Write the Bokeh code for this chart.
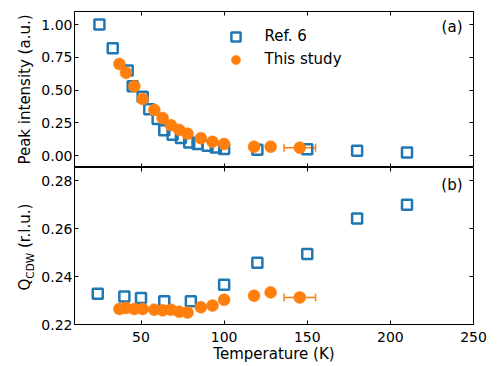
import math
from bokeh.plotting import figure
from bokeh.layouts import column, row
from bokeh.models import (Range1d, LinearAxis, SingleIntervalTicker, NumeralTickFormatter,
                          CustomJSTickFormatter, Label, Legend, LegendItem, Whisker, TeeHead,
                          ColumnDataSource)
from bokeh.core.properties import value
from bokeh.embed import file_html
from bokeh.resources import INLINE

# ---------------- data ----------------
# (a) peak intensity
ref_T_a = [25, 33, 42, 45, 51, 55, 60, 64, 69, 74, 79, 84, 90, 95, 100, 120, 150, 180, 210]
ref_I = [1.00, 0.82, 0.65, 0.53, 0.45, 0.355, 0.28, 0.195, 0.16, 0.135, 0.10, 0.089,
         0.076, 0.063, 0.051, 0.045, 0.05, 0.038, 0.025]
study_T = [37, 41, 46, 51, 58, 63, 68, 73, 78, 86, 93, 100, 118, 128, 145.5]
study_I = [0.70, 0.632, 0.53, 0.433, 0.349, 0.287, 0.233, 0.197, 0.168, 0.134, 0.106,
           0.089, 0.069, 0.069, 0.061]
study_Terr = [0, 0, 0, 0, 0, 0, 0, 0, 0, 0, 0, 0, 0, 0, 9.5]
# (b) Q_CDW
ref_T_b = [24, 40, 50, 64, 80, 100, 120, 150, 180, 210]
ref_Q = [0.2328, 0.2317, 0.2311, 0.2297, 0.2297, 0.2366, 0.2458, 0.2494, 0.2642, 0.2700]
study_Q = [0.2265, 0.2269, 0.2265, 0.2265, 0.2262, 0.2259, 0.2262, 0.2253, 0.2250,
           0.2272, 0.2279, 0.2303, 0.2320, 0.2334, 0.2313]

ylabel_a = "Peak intensity (a.u.)"
ylabel_b = ["Q", "CDW", "(r.l.u.)"]
xlabel = "Temperature (K)"

BLUE = "#1f77b4"
ORANGE = "#ff7f0e"
FONT = "DejaVu Sans"
TICK_FS = "14px"
LABEL_FS = "15px"

X0, X1 = 10, 250
YA0, YA1 = -0.09, 1.10
YB0, YB1 = 0.22, 0.2855
xr = Range1d(X0, X1)
empty_fmt = CustomJSTickFormatter(code="return ''")


def make_axis(p, place, ticker, fmt, labels, fixed=None, line=True, no_minor_out=False,
              standoff=5):
    ax = LinearAxis(ticker=ticker, formatter=fmt if labels else empty_fmt)
    ax.major_tick_in = 4
    ax.major_tick_out = 0
    ax.major_tick_line_width = 1
    ax.minor_tick_line_color = None
    if no_minor_out:
        ax.minor_tick_out = 0
        ax.minor_tick_in = 0
    ax.major_tick_line_color = "black"
    ax.axis_line_color = "black" if line else None
    ax.axis_line_width = 1
    ax.major_label_text_font = FONT
    ax.major_label_text_color = "black"
    ax.major_label_text_font_size = TICK_FS
    ax.major_label_standoff = standoff if labels else 0
    if fixed is not None:
        ax.fixed_location = fixed
    p.add_layout(ax, place)
    return ax


def base_fig(height, yr, top, bottom):
    p = figure(width=452, height=height, x_range=xr, y_range=yr,
               output_backend="svg", toolbar_location=None,
               x_axis_location=None, y_axis_location=None,
               min_border_left=38, min_border_right=15,
               min_border_top=top, min_border_bottom=bottom)
    p.outline_line_color = "black"
    p.outline_line_width = 1
    p.grid.visible = False
    p.background_fill_color = "white"
    p.border_fill_color = None
    return p


xt = SingleIntervalTicker(interval=50)
xf = NumeralTickFormatter(format="0")

# ---------------- panel (a) ----------------
p1 = base_fig(167, Range1d(YA0, YA1), 11, 0)
yt1 = SingleIntervalTicker(interval=0.25)
yf1 = NumeralTickFormatter(format="0.00")
make_axis(p1, "left", yt1, yf1, True, no_minor_out=True, standoff=2)
make_axis(p1, "right", yt1, yf1, False, fixed=X1)
make_axis(p1, "below", xt, xf, False, fixed=YA0, line=False)
make_axis(p1, "above", xt, xf, False, fixed=YA1)

r_ref_a = p1.scatter(ref_T_a, ref_I, marker="square", size=10, fill_color=None,
                     line_color=BLUE, line_width=2.5)
src_a = ColumnDataSource(dict(T=study_T, v=study_I,
                              lo=[t - e for t, e in zip(study_T, study_Terr)],
                              hi=[t + e for t, e in zip(study_T, study_Terr)]))
p1.add_layout(Whisker(source=src_a, base="v", lower="lo", upper="hi", dimension="width",
                      line_color=ORANGE, line_width=1.5,
                      lower_head=TeeHead(size=8, line_color=ORANGE, line_width=1.5),
                      upper_head=TeeHead(size=8, line_color=ORANGE, line_width=1.5)))
r_study_a = p1.scatter("T", "v", source=src_a, marker="circle", size=12,
                       fill_color=ORANGE, line_color=ORANGE, line_width=0.5)

legend = Legend(items=[LegendItem(label="Ref. 6", renderers=[r_ref_a]),
                       LegendItem(label="This study", renderers=[r_study_a])],
                location=(148.5, 96.5))
legend.border_line_alpha = 0
legend.background_fill_alpha = 0
legend.padding = 0
legend.margin = 0
legend.spacing = 0
legend.glyph_width = 25
legend.glyph_height = 23
legend.label_height = 20
legend.label_standoff = 17
legend.label_text_font = FONT
legend.label_text_font_size = LABEL_FS
legend.label_text_color = "black"
p1.add_layout(legend, "center")

p1.add_layout(Label(x=388, y=141, x_units="screen", y_units="screen", text="(a)",
                    text_align="right", text_baseline="middle",
                    text_font=FONT, text_font_size=LABEL_FS, text_color="black"))

# ---------------- panel (b) ----------------
p2 = base_fig(199, Range1d(YB0, YB1), 0, 42)
yt2 = SingleIntervalTicker(interval=0.02)
yf2 = NumeralTickFormatter(format="0.00")
make_axis(p2, "left", yt2, yf2, True, no_minor_out=True, standoff=2)
make_axis(p2, "right", yt2, yf2, False, fixed=X1)
bx = make_axis(p2, "below", xt, xf, True)
bx.axis_label = xlabel
bx.axis_label_text_font = FONT
bx.axis_label_text_font_size = LABEL_FS
bx.axis_label_text_font_style = "normal"
bx.axis_label_text_color = "black"
bx.axis_label_standoff = 0
bx.major_label_standoff = 3
make_axis(p2, "above", xt, xf, False, fixed=YB1, line=False)

p2.scatter(ref_T_b, ref_Q, marker="square", size=10, fill_color=None,
           line_color=BLUE, line_width=2.5)
src_b = ColumnDataSource(dict(T=study_T, v=study_Q,
                              lo=[t - e for t, e in zip(study_T, study_Terr)],
                              hi=[t + e for t, e in zip(study_T, study_Terr)]))
p2.add_layout(Whisker(source=src_b, base="v", lower="lo", upper="hi", dimension="width",
                      line_color=ORANGE, line_width=1.5,
                      lower_head=TeeHead(size=8, line_color=ORANGE, line_width=1.5),
                      upper_head=TeeHead(size=8, line_color=ORANGE, line_width=1.5)))
p2.scatter("T", "v", source=src_b, marker="circle", size=12,
           fill_color=ORANGE, line_color=ORANGE, line_width=0.5)

p2.add_layout(Label(x=388, y=140, x_units="screen", y_units="screen", text="(b)",
                    text_align="right", text_baseline="middle",
                    text_font=FONT, text_font_size=LABEL_FS, text_color="black"))

# ---------------- y-axis titles (narrow text strip on the left) ----------------
lab = figure(width=36, height=366, x_range=Range1d(0, 36), y_range=Range1d(0, 366),
             output_backend="svg", toolbar_location=None,
             x_axis_location=None, y_axis_location=None,
             min_border=0, min_border_left=0, min_border_right=0,
             min_border_top=0, min_border_bottom=0)
lab.outline_line_color = None
lab.grid.visible = False
lab.border_fill_color = None
lab.background_fill_color = None
lab.text(x=[33.5], y=[277], text=[ylabel_a], angle=math.pi / 2,
         text_align="center", text_baseline="bottom",
         text_font=value(FONT), text_font_size=value(LABEL_FS), text_color="black")
lab.text(x=[33.5, 35, 33.5], y=[76, 87.8, 118.4], text=ylabel_b, angle=math.pi / 2,
         text_align="left", text_baseline="bottom",
         text_font=value(FONT), text_font_size=["15px", "10.5px", "15px"],
         text_color="black")

layout = row(lab, column(p1, p2, spacing=0), spacing=0)
open("out.html", "w").write(file_html(layout, INLINE))
